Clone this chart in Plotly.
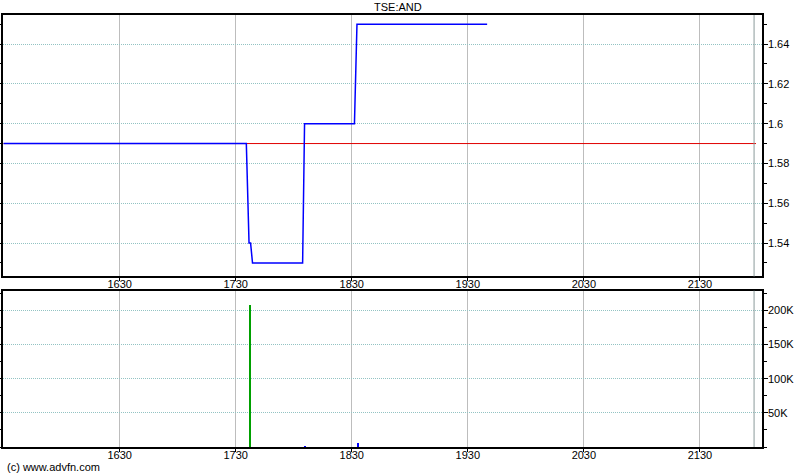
import plotly.graph_objects as go

# ---- data ----
price_times = ["15:30:00", "17:35:30", "17:36:54", "17:37:42", "17:38:42",
               "18:04:36", "18:05:36", "18:31:24", "18:32:42", "19:40:00"]
price_values = [1.59, 1.59, 1.54, 1.54, 1.53, 1.53, 1.60, 1.60, 1.65, 1.65]

prev_close = 1.59
prev_close_span = ["15:30:00", "21:59:00"]

volume_times = ["17:37:12", "18:06:06", "18:33:12"]
volume_values = [209000, 1500, 6000]
volume_colors = ["#00a000", "#0000ff", "#0000ff"]

session_end = "21:58:00"

x_tick_labels = ["1630", "1730", "1830", "1930", "2030", "2130"]
price_ticks = [1.54, 1.56, 1.58, 1.6, 1.62, 1.64]
price_tick_labels = ["1.54", "1.56", "1.58", "1.6", "1.62", "1.64"]
vol_ticks = [50000, 100000, 150000, 200000]
vol_tick_labels = ["50K", "100K", "150K", "200K"]


def to_min(t):
    parts = [int(p) for p in t.split(":")]
    while len(parts) < 3:
        parts.append(0)
    return parts[0] * 60 + parts[1] + parts[2] / 60.0


def label_to_min(lbl):
    return int(lbl[:-2]) * 60 + int(lbl[-2:])


px = [to_min(t) for t in price_times]
vx = [to_min(t) for t in volume_times]
x_tick_vals = [label_to_min(l) for l in x_tick_labels]
x_range = [929.7, 1322.1]

FONT = "Liberation Sans, Arial, sans-serif"
HGRID = "#93c3c3"
VGRID = "#bdbdbd"

fig = go.Figure()

fig.add_trace(go.Scatter(
    x=[to_min(t) for t in prev_close_span], y=[prev_close, prev_close],
    mode="lines", line=dict(color="#e00000", width=1),
    xaxis="x", yaxis="y", hoverinfo="skip", showlegend=False))

fig.add_trace(go.Scatter(
    x=px, y=price_values, mode="lines",
    line=dict(color="#0000ff", width=1.5),
    xaxis="x", yaxis="y", showlegend=False))

fig.add_trace(go.Bar(
    x=vx, y=volume_values, width=0.55,
    marker=dict(color=volume_colors, line=dict(width=0)),
    xaxis="x2", yaxis="y2", showlegend=False))

common_x = dict(
    range=x_range, tickmode="array", tickvals=x_tick_vals, ticktext=x_tick_labels,
    showgrid=True, gridcolor=VGRID, gridwidth=1,
    showline=True, linecolor="black", linewidth=1.5, mirror=True,
    ticks="outside", ticklen=3, tickcolor="black", ticklabelstandoff=-6,
    tickfont=dict(family=FONT, size=11, color="black"),
    zeroline=False, fixedrange=True, automargin=False,
)

common_y = dict(
    side="right", tickmode="array",
    showgrid=True, gridcolor=HGRID, griddash="1px,1px", gridwidth=1,
    showline=True, linecolor="black", linewidth=1.5, mirror="allticks",
    ticks="outside", ticklen=4, tickcolor="black", ticklabelstandoff=-2,
    tickfont=dict(family=FONT, size=11, color="black"),
    zeroline=False, fixedrange=True, automargin=False,
)

fig.update_layout(
    template="none",
    width=800, height=475,
    margin=dict(l=3, r=38, t=15, b=28),
    paper_bgcolor="white", plot_bgcolor="white",
    bargap=0,
    xaxis=dict(domain=[0, 1], anchor="y", **common_x),
    xaxis2=dict(domain=[0, 1], anchor="y2", **common_x),
    yaxis=dict(
        domain=[0.3947, 1], anchor="x",
        range=[1.5232, 1.6546],
        tickvals=price_ticks, ticktext=price_tick_labels,
        minor=dict(dtick=0.01, tick0=1.5, ticks="outside", ticklen=3,
                   tickcolor="black", showgrid=False),
        **common_y,
    ),
    yaxis2=dict(
        domain=[0, 0.3618], anchor="x2",
        range=[0, 228800],
        tickvals=vol_ticks, ticktext=vol_tick_labels,
        minor=dict(dtick=25000, tick0=0, ticks="outside", ticklen=3,
                   tickcolor="black", showgrid=False),
        **common_y,
    ),
    shapes=[
        dict(type="line", xref="x", yref="y domain",
             x0=to_min(session_end), x1=to_min(session_end), y0=0, y1=1,
             line=dict(color="#8a9a9a", width=1)),
        dict(type="line", xref="x2", yref="y2 domain",
             x0=to_min(session_end), x1=to_min(session_end), y0=0, y1=1,
             line=dict(color="#8a9a9a", width=1)),
    ],
    annotations=[
        dict(text="TSE:AND", xref="paper", yref="paper", x=0.52, y=1.018,
             xanchor="center", yanchor="middle", showarrow=False,
             font=dict(family=FONT, size=11, color="black")),
        dict(text="(c) www.advfn.com", xref="paper", yref="paper",
             x=0.0026, y=-0.046, xanchor="left", yanchor="middle",
             showarrow=False, font=dict(family=FONT, size=11, color="black")),
    ],
)

fig.write_html("out.html",
               config={"displayModeBar": False},
               post_script="document.body.style.margin='0px';"
                           "document.body.style.overflow='hidden';")
